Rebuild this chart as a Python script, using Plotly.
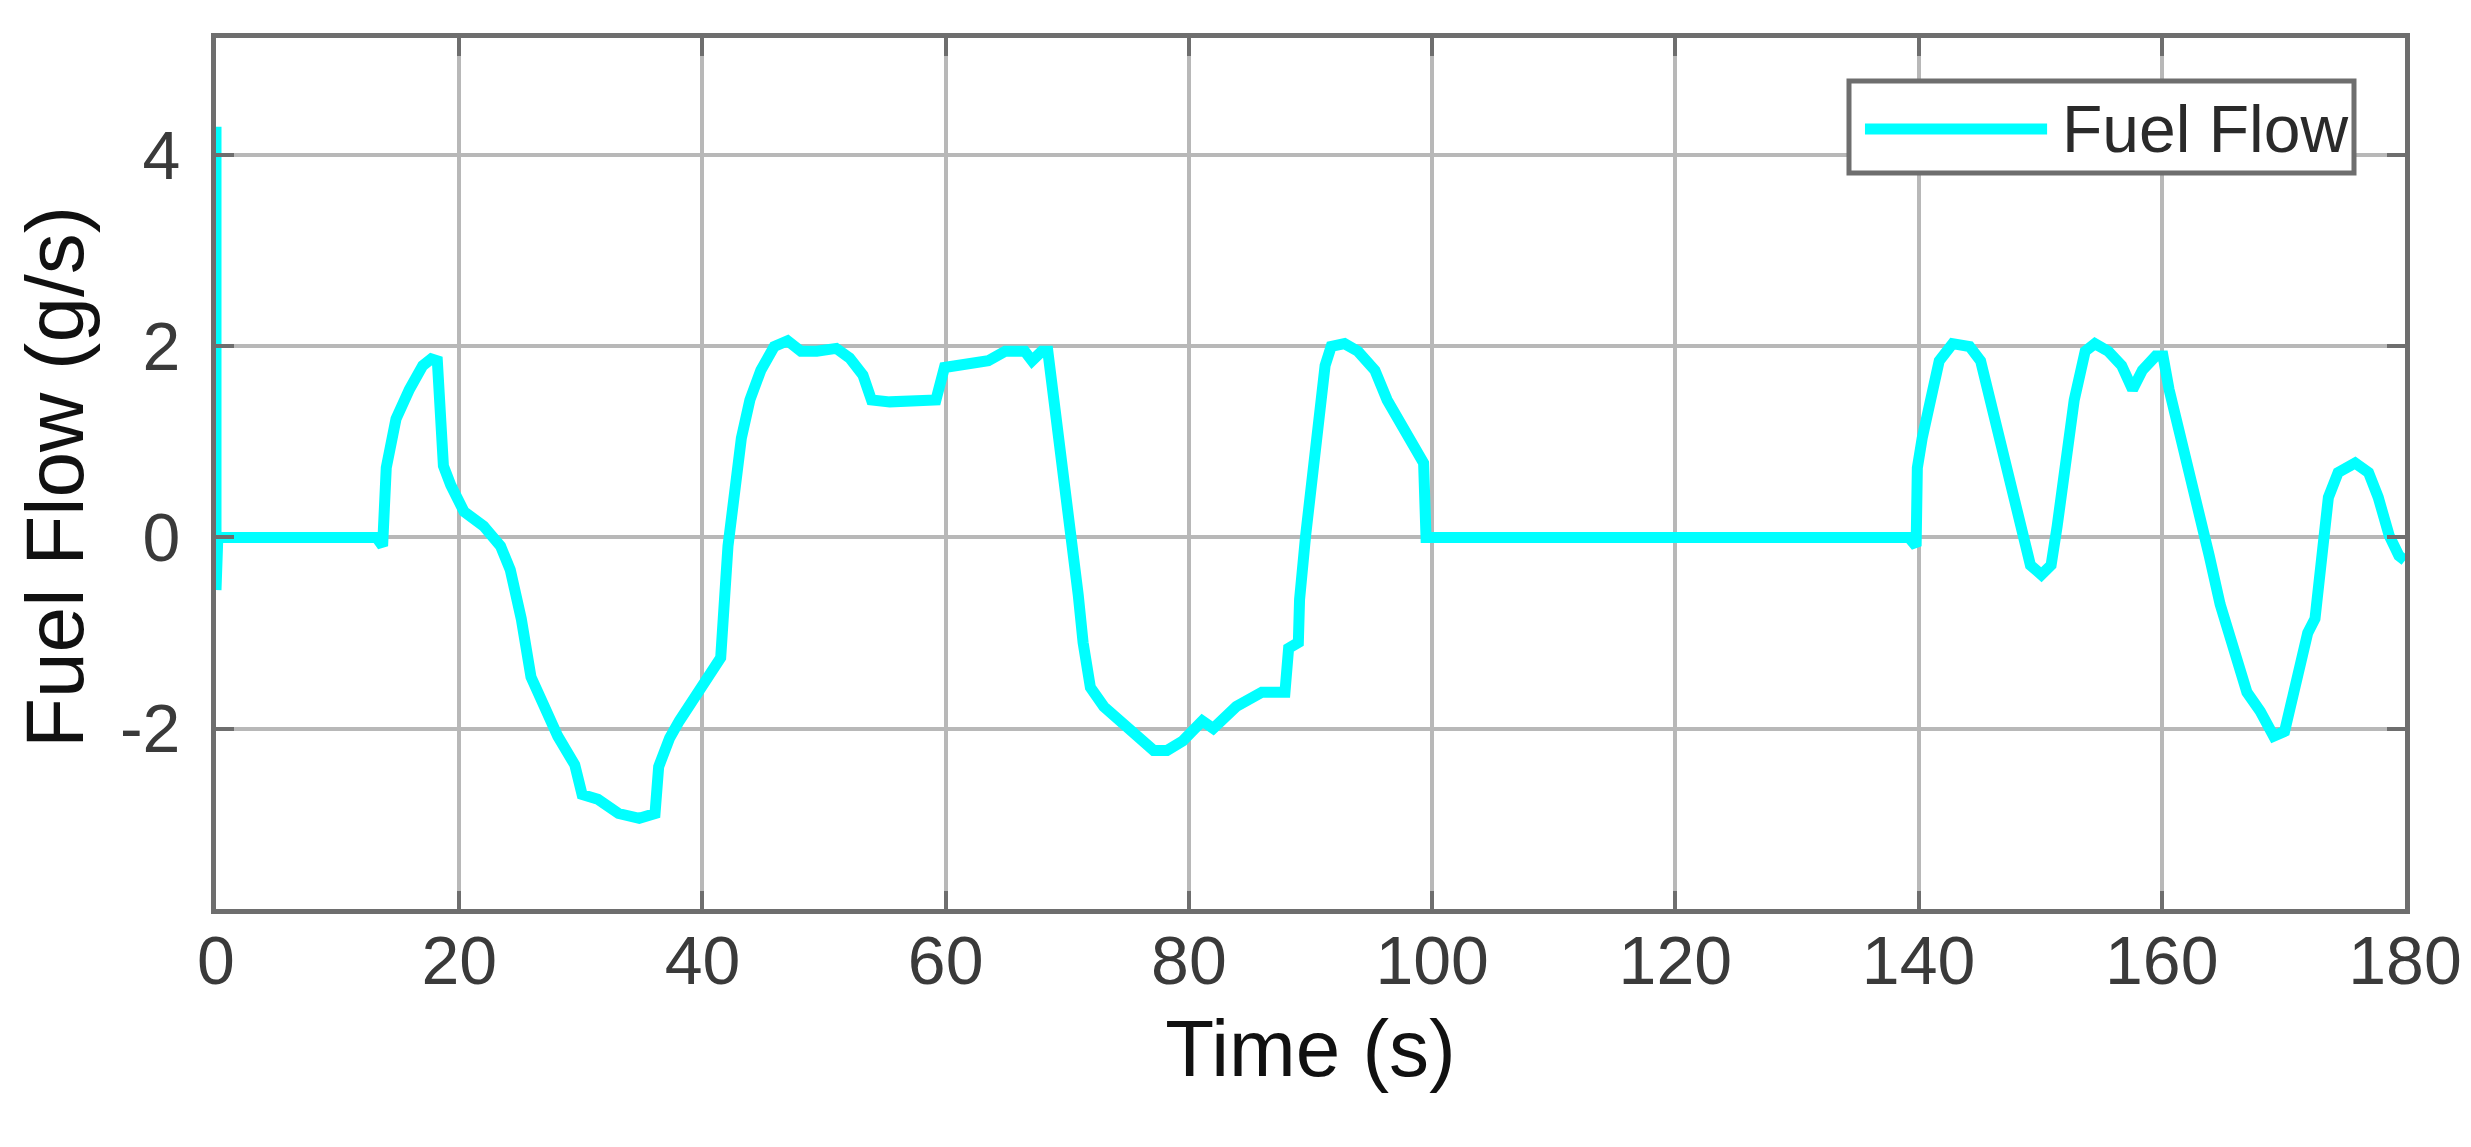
import plotly.graph_objects as go

# ---- data ----
time_s = [0, 0, 0.15, 13.2, 13.7, 14.0, 14.8, 15.9, 17.0, 17.7, 18.2, 18.7, 19.3, 20.4, 22.0,
          23.4, 24.2, 25.1, 25.9, 27.0, 28.1, 29.5, 30.1, 31.4, 33.1, 34.8, 36.1, 36.4, 37.3,
          38.1, 39.2, 40.6, 41.5, 42.1, 42.5, 43.2, 43.9, 44.8, 45.9, 47.0, 48.1, 49.4, 51.0,
          52.1, 53.2, 53.9, 55.4, 57.6, 59.2, 59.9, 61.6, 63.5, 64.9, 66.5, 67.1, 67.9, 68.4,
          69.0, 69.8, 70.4, 70.9, 71.3, 71.9, 73.0, 74.4, 75.7, 77.1, 78.2, 79.5, 81.1, 82.0,
          83.9, 86.0, 87.9, 88.2, 89.0, 89.1, 89.6, 90.0, 90.6, 91.2, 91.7, 92.8, 93.9, 95.3,
          96.3, 97.4, 98.5, 99.3, 99.5, 139.2, 139.8, 139.9, 140.3, 140.9, 141.7, 142.8, 144.2,
          145.1, 145.9, 146.7, 147.6, 148.4, 149.2, 150.1, 150.9, 151.4, 152.0, 152.8, 153.7,
          154.5, 155.6, 156.7, 157.6, 158.4, 159.5, 160.1, 160.6, 161.4, 162.3, 163.1, 163.9,
          164.8, 165.9, 167.0, 168.1, 169.2, 170.1, 170.6, 171.2, 172.0, 172.6, 173.1, 173.7,
          174.5, 175.9, 177.0, 177.8, 178.7, 179.5, 180.0]
fuel_flow = [4.3, -0.55, 0.0, 0.0, -0.09, 0.73, 1.24, 1.55, 1.8, 1.87, 1.85, 0.75, 0.55, 0.27, 0.12,
             -0.09, -0.34, -0.85, -1.46, -1.77, -2.08, -2.38, -2.69, -2.74, -2.89, -2.94, -2.89, -2.4, -2.1,
             -1.92, -1.72, -1.46, -1.26, -0.09, 0.42, 1.04, 1.44, 1.75, 2.0, 2.06, 1.95, 1.95, 1.98,
             1.88, 1.7, 1.44, 1.42, 1.44, 1.44, 1.78, 1.8, 1.85, 1.95, 1.95, 1.85, 1.95, 1.95,
             1.34, 0.68, 0.02, -0.6, -1.1, -1.57, -1.77, -1.92, -2.08, -2.23, -2.23, -2.13, -1.92, -2.0,
             -1.77, -1.62, -1.62, -1.16, -1.1, -0.65, 0.02, 0.42, 1.19, 1.8, 2.0, 2.03, 1.95, 1.75,
             1.44, 1.19, 0.98, 0.78, 0.0, 0.0, -0.09, 0.73, 1.04, 1.44, 1.85, 2.03, 2.0,
             1.85, 1.44, 0.93, 0.53, 0.07, -0.29, -0.39, -0.29, 0.12, 0.68, 1.44, 1.95,
             2.03, 1.95, 1.8, 1.55, 1.75, 1.9, 1.9, 1.55, 1.14, 0.73, 0.32, -0.19,
             -0.7, -1.16, -1.62, -1.82, -2.08, -2.03, -1.77, -1.52, -1.0, -0.85, -0.34, 0.42,
             0.68, 0.78, 0.68, 0.42, 0.02, -0.19, -0.24]

x_ticks = [0, 20, 40, 60, 80, 100, 120, 140, 160, 180]
y_ticks = [-2, 0, 2, 4]
y_tick_labels = ["-2", "0", "2", "4"]
series_name = "Fuel Flow"
x_title = "Time (s)"
y_title = "Fuel Flow (g/s)"

FONT = "Liberation Sans, Arial, Helvetica, sans-serif"
AXIS_COLOR = "#6e6e6e"
GRID_COLOR = "#b8b8b8"

fig = go.Figure()
fig.add_trace(go.Scatter(x=time_s, y=fuel_flow, mode="lines", name=series_name,
                         line=dict(color="#00ffff", width=11), showlegend=False))

axis_common = dict(
    showline=True, linecolor=AXIS_COLOR, linewidth=5, mirror="ticks",
    ticks="inside", ticklen=18, tickwidth=4, tickcolor=AXIS_COLOR,
    showgrid=True, gridcolor=GRID_COLOR, gridwidth=4, zeroline=False,
    tickfont=dict(family=FONT, size=68, color="#3a3a3a"),
    automargin=False,
)

fig.update_xaxes(range=[0, 180], tickvals=x_ticks, ticklabelstandoff=-12,
                 title=dict(text=x_title, font=dict(family=FONT, size=80, color="#111111"), standoff=25),
                 **axis_common)
fig.update_yaxes(range=[-3.89, 5.23], tickvals=y_ticks, ticktext=y_tick_labels, ticklabelstandoff=17,
                 **axis_common)

# y-axis title placed as in the reference
fig.add_annotation(xref="paper", yref="paper", x=-0.0735, y=0.496, xanchor="center", yanchor="middle",
                   text=y_title, textangle=-90, showarrow=False,
                   font=dict(family=FONT, size=82, color="#111111"))

# legend box (drawn in the MATLAB style, with a long line sample)
fig.add_shape(type="rect", xref="paper", yref="paper", x0=0.746, x1=0.9767, y0=0.845, y1=0.9506,
              line=dict(color=AXIS_COLOR, width=5), fillcolor="white", layer="above")
fig.add_shape(type="line", xref="paper", yref="paper", x0=0.7533, x1=0.8365, y0=0.8955, y1=0.8955,
              line=dict(color="#00ffff", width=11), layer="above")
fig.add_annotation(xref="paper", yref="paper", x=0.8424, y=0.8955, xanchor="left", yanchor="middle",
                   text=series_name, showarrow=False,
                   font=dict(family=FONT, size=66, color="#2a2a2a"))

fig.update_layout(
    width=2471, height=1147,
    margin=dict(l=208, r=74, t=30, b=246),
    paper_bgcolor="white", plot_bgcolor="white",
    showlegend=False,
)

fig.write_html("out.html")
